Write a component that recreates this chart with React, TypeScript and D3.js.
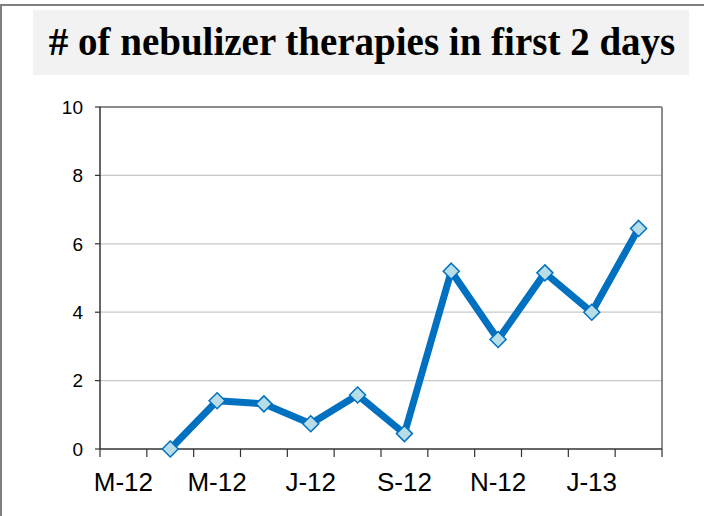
import React from 'react';
import { scaleBand, scaleLinear, line, range } from 'd3';

const width = 704;
const height = 516;
const margin = { top: 107, right: 42, bottom: 67, left: 100 };

const titleText = '# of nebulizer therapies in first 2 days';
const months = ['Mar-12', 'Apr-12', 'May-12', 'Jun-12', 'Jul-12', 'Aug-12', 'Sep-12', 'Oct-12', 'Nov-12', 'Dec-12', 'Jan-13', 'Feb-13'];
const tickMonths = ['Mar-12', 'May-12', 'Jul-12', 'Sep-12', 'Nov-12', 'Jan-13'];
const tickLabels = ['M-12', 'M-12', 'J-12', 'S-12', 'N-12', 'J-13'];
const therapies: (number | null)[] = [null, 0, 1.41, 1.32, 0.74, 1.58, 0.45, 5.2, 3.2, 5.15, 4.0, 6.45];
const yTicks = [0, 2, 4, 6, 8, 10];

const App = () => {
  const innerWidth = width - margin.left - margin.right;
  const innerHeight = height - margin.top - margin.bottom;

  const xScale = scaleBand().domain(months).range([0, innerWidth]).padding(0);
  const yScale = scaleLinear().domain([0, 10]).range([innerHeight, 0]);
  const bw = xScale.bandwidth();

  const pts = months
    .map((m, i) => ({ m, v: therapies[i] }))
    .filter((d) => d.v !== null) as { m: string; v: number }[];

  const path = line<{ m: string; v: number }>()
    .x((d) => (xScale(d.m) as number) + bw / 2)
    .y((d) => yScale(d.v))(pts);

  const r = 8;
  return (
    <svg
      width={width}
      height={height}
      style={{ position: 'absolute', left: 0, top: 0, background: '#fff' }}
    >
      {/* outer frame, top and left only */}
      <line x1={0} x2={width} y1={5} y2={5} stroke="#808080" strokeWidth={2} />
      <line x1={1} x2={1} y1={5} y2={height} stroke="#808080" strokeWidth={2} />

      <rect x={33} y={10} width={656} height={65} fill="#f2f2f2" />
      <text
        x={362}
        y={55}
        textAnchor="middle"
        style={{ fontFamily: '"Liberation Serif", "Times New Roman", serif', fontWeight: 'bold', fontSize: 39 }}
      >
        {titleText}
      </text>

      <g transform={`translate(${margin.left},${margin.top})`}>
        {yTicks.map((t) => (
          <g key={t} transform={`translate(0,${yScale(t)})`}>
            {t > 0 && t < 10 && (
              <line x2={innerWidth} stroke="#c8c8c8" strokeWidth={1.2} />
            )}
            <line x1={-5} x2={0} stroke="#333" strokeWidth={1.2} />
            <text
              x={-17}
              dy="0.36em"
              textAnchor="end"
              style={{ fontFamily: '"Liberation Sans", Arial, sans-serif', fontSize: 19 }}
            >
              {t}
            </text>
          </g>
        ))}
        {/* plot border top and right */}
        <line x1={0} x2={innerWidth} y1={0} y2={0} stroke="#8c8c8c" strokeWidth={2} />
        <line x1={innerWidth} x2={innerWidth} y1={0} y2={innerHeight} stroke="#8c8c8c" strokeWidth={2} />

        {/* x ticks at band boundaries */}
        {range(months.length + 1).map((i) => (
          <line
            key={i}
            x1={i * bw}
            x2={i * bw}
            y1={innerHeight}
            y2={innerHeight + 8}
            stroke="#333"
            strokeWidth={1.2}
          />
        ))}
        {tickMonths.map((m, i) => (
          <text
            key={m}
            x={(xScale(m) as number) + bw / 2}
            y={innerHeight + 42}
            textAnchor="middle"
            style={{ fontFamily: '"Liberation Sans", Arial, sans-serif', fontSize: 26 }}
          >
            {tickLabels[i]}
          </text>
        ))}
        <line x1={0} x2={innerWidth} y1={innerHeight} y2={innerHeight} stroke="#333" strokeWidth={1.5} />
        <line x1={0} x2={0} y1={0} y2={innerHeight} stroke="#333" strokeWidth={1.5} />

        <path d={path || ''} fill="none" stroke="#0070c0" strokeWidth={7} strokeLinejoin="round" />
        {pts.map((d) => {
          const cx = (xScale(d.m) as number) + bw / 2;
          const cy = yScale(d.v);
          return (
            <path
              key={d.m}
              d={`M${cx},${cy - r}L${cx + r},${cy}L${cx},${cy + r}L${cx - r},${cy}Z`}
              fill="#b7dde8"
              stroke="#0070c0"
              strokeWidth={1.5}
            />
          );
        })}
      </g>
    </svg>
  );
};

export default App;
